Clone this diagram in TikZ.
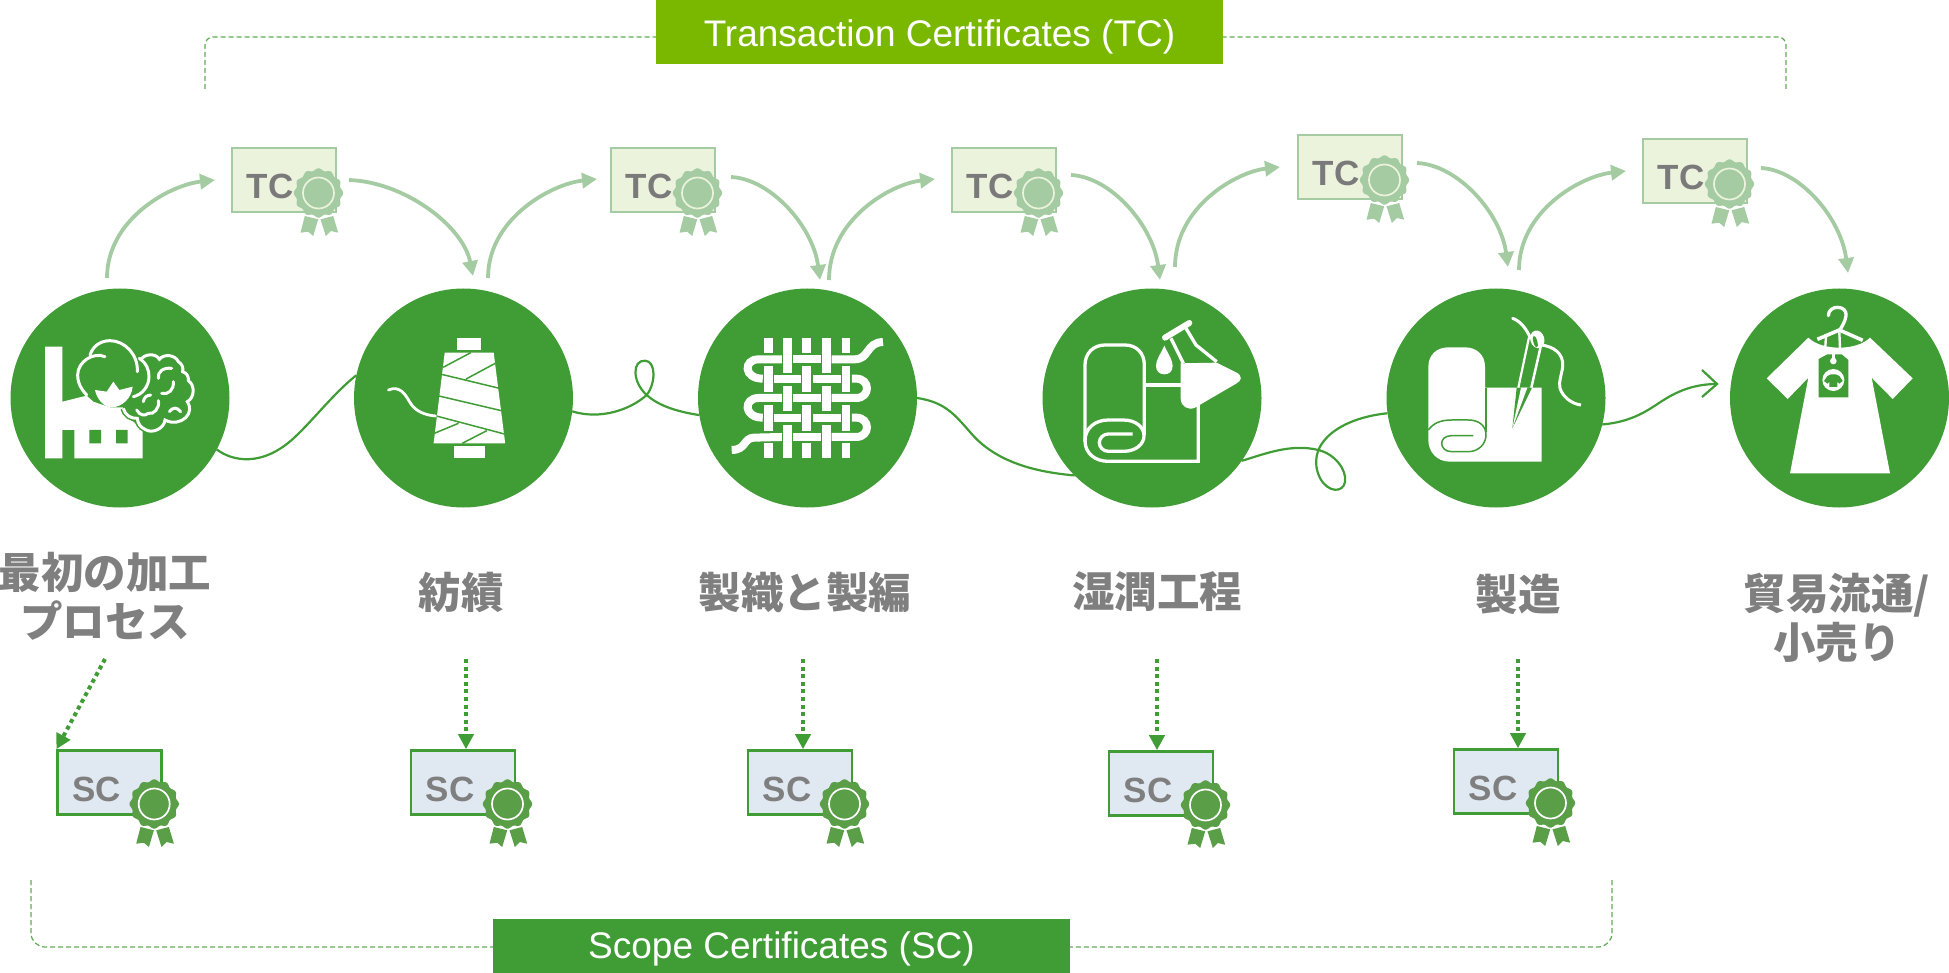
\documentclass[tikz,border=0pt]{standalone}
\usepackage{fontspec}
\setmainfont{Liberation Sans}
\newfontfamily\jpfont{Noto Sans CJK JP}
\usetikzlibrary{arrows.meta,calc}
\definecolor{gsgreen}{HTML}{409C35}
\definecolor{gslight}{HTML}{A5CBA3}
\definecolor{tcfill}{HTML}{ECF3DC}
\definecolor{scfill}{HTML}{E0E8F2}
\definecolor{tcbar}{HTML}{7AB800}
\definecolor{lblgray}{HTML}{7F7F7F}
\definecolor{sealgreen}{HTML}{5A9E48}
\tikzset{
  x=1pt,y=-1pt,
  stage/.style={circle,fill=gsgreen,minimum size=219pt,inner sep=0pt,outer sep=0pt},
  lbl/.style={text=lblgray,font=\jpfont\bfseries\fontsize{42.5}{49}\selectfont,align=center,inner sep=0pt},
  certbox/.style={draw=#1,line width=2.6pt,minimum width=104pt,minimum height=64pt,inner sep=0pt},
  certtxt/.style={text=#1,font=\bfseries\fontsize{35}{35}\selectfont,inner sep=0pt},
  bar/.style={fill=#1,minimum height=54pt,inner sep=0pt,outer sep=0pt,text=white,font=\fontsize{37}{37}\selectfont},
  tcarrow/.style={gslight,line width=3.8pt,-{Triangle[length=15pt,width=15pt]}},
  scarrow/.style={gsgreen,line width=4pt,dash pattern=on 4pt off 3.6pt,-{Triangle[length=15pt,width=15pt]}},
  thread/.style={gsgreen,line width=2.2pt},
  bracket/.style={gsgreen!85!white,line width=1.2pt,dash pattern=on 5pt off 3pt},
  ico/.style={white,line width=#1},
  icozoom/.style={shift={#1},scale=1/3}
}
\newcommand{\sealmark}[4]{%
  \begin{scope}[shift={(#1,#2)}]
    \fill[#3] plot[domain=0:360,samples=121] (\x:{23.6+1.1*cos(12*\x)}) -- cycle;
    \draw[#4,line width=1.7pt] (0,0) circle (15.5);
    \fill[#3] (0,0) circle (13.6);
    \fill[#3] (-13.7,23) -- (-0.3,26.3) -- (-5.3,43) -- (-10.3,38.7) -- (-18,39.7) -- cycle;
    \fill[#3] (2,26.3) -- (14.7,23) -- (19.7,39.7) -- (12.3,38) -- (7.3,43) -- cycle;
  \end{scope}}
\newcommand{\tccert}[3]{%
  \node[certbox=gslight,fill=tcfill] (#1) at (#2+53,#3+33) {};
  \node[certtxt=black!52] (#1t) at (#2+39,#3+39) {TC};
  \sealmark{#2+87.5}{#3+46}{gslight}{tcfill}}
\newcommand{\sccert}[3]{%
  \node[certbox=gsgreen,fill=scfill] (#1) at (#2+53,#3+33.5) {};
  \node[certtxt=lblgray] (#1t) at (#2+40,#3+40) {SC};
  \sealmark{#2+97.5}{#3+55}{sealgreen}{white}}
\begin{document}
\begin{tikzpicture}
\useasboundingbox (0,0) rectangle (1949,973);

% stages
\node[stage] (c1) at (120,398) {};
\node[stage] (c2) at (463.5,398) {};
\node[stage] (c3) at (807.5,398) {};
\node[stage] (c4) at (1152,398) {};
\node[stage] (c5) at (1496,398) {};
\node[stage] (c6) at (1839.5,398) {};

% threads
\draw[thread] (c1.-28) .. controls (232,461) and (262,468) .. (295,437) .. controls (315,418) and (335,392) .. (c2.168);
\draw[thread] (c2.-7.6) .. controls (600,420) and (630,410) .. (646.7,395) .. controls (656,383) and (656,361) .. (645,360.7) .. controls (632,360) and (632,382) .. (646.7,395) .. controls (660,407) and (680,412) .. (c3.189);
\draw[thread] (c3.0) .. controls (945,402) and (955,415) .. (970,432) .. controls (995,462) and (1035,472) .. (c4.225);
\draw[thread] (c4.-35) .. controls (1262,455) and (1290,443) .. (1318.3,450) .. controls (1335,454) and (1347,470) .. (1345,482) .. controls (1343,493) and (1328,493) .. (1320,478) .. controls (1312,462) and (1318,448) .. (1323.3,441.7) .. controls (1335,426) and (1360,416) .. (c5.188);
\coordinate (threadtip) at (1717,384);
\draw[thread] (c5.-14) .. controls (1630,422) and (1645,412) .. (1656,405) .. controls (1672,394) and (1690,384) .. (threadtip);
\draw[thread] (1702,370) -- (threadtip) -- (1702,397);

% banners and brackets
\node[bar=tcbar,minimum width=567pt,minimum height=64pt] (tcbar) at (939.5,32) {\raisebox{-15pt}[0pt][0pt]{Transaction Certificates (TC)}};
\node[bar=gsgreen,minimum width=577pt] (scbar) at (781.5,946) {\raisebox{-12.5pt}[0pt][0pt]{Scope Certificates (SC)}};
\coordinate (tl) at (205,89); \coordinate (tr) at (1786,89);
\coordinate (bl) at (31,880); \coordinate (br) at (1612,880);
\draw[bracket,rounded corners=8pt] (tl) |- (tcbar.west |- 0,37);
\draw[bracket,rounded corners=8pt] (tr) |- (tcbar.east |- 0,37);
\draw[bracket,rounded corners=14pt] (bl) |- (scbar.west |- 0,947);
\draw[bracket,rounded corners=14pt] (br) |- (scbar.east |- 0,947);

% TC certificates
\tccert{tc1}{231}{147}
\tccert{tc2}{610}{147}
\tccert{tc3}{951}{147}
\tccert{tc4}{1297}{134}
\tccert{tc5}{1642}{138}

\coordinate (u1a) at (107,278); \coordinate (u1b) at (215,180);
\coordinate (d1a) at (349,180); \coordinate (d1b) at (473,276);
\coordinate (u2a) at (488,278); \coordinate (u2b) at (597,179);
\coordinate (d2a) at (731,177); \coordinate (d2b) at (820,280);
\coordinate (u3a) at (829,280); \coordinate (u3b) at (935,179);
\coordinate (d3a) at (1071,175); \coordinate (d3b) at (1160,280);
\coordinate (u4a) at (1175,267); \coordinate (u4b) at (1280,167);
\coordinate (d4a) at (1417,163); \coordinate (d4b) at (1508,267);
\coordinate (u5a) at (1519,270); \coordinate (u5b) at (1626,171);
\coordinate (d5a) at (1761,168); \coordinate (d5b) at (1848,273);
\foreach \n in {1,...,5}{
  \draw[tcarrow] (u\n a) .. controls ($(u\n a)!0.6!(u\n a |- u\n b)$) and ($(u\n b)!0.42!(u\n a |- u\n b)+(0,5)$) .. (u\n b);
  \coordinate (k1) at ($(d\n a)!0.92!(d\n b |- d\n a)$);
  \coordinate (k2) at ($(d\n a)!0.48!(d\n a |- d\n b)$);
  \draw[tcarrow] (d\n a) .. controls ($(d\n a)!0.45!(d\n b |- d\n a)+(0,2)$) and (k1 |- k2) .. (d\n b);
}

% labels
\node[lbl] (l1) at (105,596) {最初の加工\\プロセス};
\node[lbl] (l2) at (461,592) {紡績};
\node[lbl] (l3) at (805,592) {製織と製編};
\node[lbl] (l4) at (1157,592) {湿潤工程};
\node[lbl] (l5) at (1518,594) {製造};
\node[lbl] (l6) at (1837,618) {貿易流通/\\小売り};

% SC certificates
\sccert{sc1}{56.7}{749}
\sccert{sc2}{410}{749}
\sccert{sc3}{747}{749}
\sccert{sc4}{1108}{750}
\sccert{sc5}{1453}{748}
\coordinate (s1) at (105,659); \coordinate (s2) at (466,659); \coordinate (s3) at (803,659); \coordinate (s4) at (1157,659); \coordinate (s5) at (1518,659);
\draw[scarrow] (s1) -- (sc1.north west);
\foreach \n in {2,...,5}{ \draw[scarrow] (s\n) -- (s\n |- sc\n.north); }

% ---- icon 1: factory and cotton
\begin{scope}[icozoom={(50,330)}]
  \fill[white] (-15,50) -- (37,50) -- (37,215) -- (110,197) -- (130,215) -- (180,232) -- (218,232) -- (235,265) -- (278,295) -- (278,385) -- (73,385) -- (73,300) -- (37,300) -- (37,385) -- (-15,385) -- cycle;
  \fill[gsgreen] (118,300) rectangle (153,340) (198,300) rectangle (233,340);
  \draw[gsgreen,fill=gsgreen,line width=6pt] (272,92) to[bend left=70] (328,88) to[bend left=60] (385,95) to[bend left=35] (398,125) to[bend left=40] (415,152) to[bend left=60] (412,215) to[bend left=40] (408,262) to[bend left=35] (345,270) to[bend left=60] (285,298) to[bend left=30] (262,265) to[bend left=40] (220,235);
  \draw[ico=3pt] (272,92) to[bend left=70] (328,88) to[bend left=60] (385,95) to[bend left=35] (398,125) to[bend left=40] (415,152) to[bend left=60] (412,215) to[bend left=40] (408,262) to[bend left=35] (345,270) to[bend left=60] (285,298) to[bend left=30] (262,265) to[bend left=40] (220,235);
  \fill[gsgreen] (110,197) -- (250,200) -- (268,85) -- (120,75) -- (83,135) -- cycle;
  \draw[ico=3pt,line cap=round] (165,80) .. controls (130,65) and (83,95) .. (83,135) .. controls (83,160) and (95,180) .. (110,195);
  \draw[ico=3pt,line cap=round] (120,75) .. controls (130,45) and (155,32) .. (180,32) .. controls (225,32) and (265,75) .. (262,125);
  \draw[ico=3pt,line cap=round] (268,85) .. controls (290,100) and (297,120) .. (297,140) .. controls (297,170) and (275,195) .. (250,200);
  \fill[white] (135,180) -- (170,185) -- (190,155) -- (208,180) -- (248,170) .. controls (245,205) and (215,232) .. (185,232) .. controls (160,232) and (140,205) .. (135,180) -- cycle;
  \draw[ico=3pt,line cap=round] (325,145) .. controls (322,125) and (340,112) .. (365,115);
  \draw[ico=3pt,line cap=round] (335,190) .. controls (355,195) and (372,180) .. (370,155);
  \draw[ico=3pt,line cap=round] (280,215) .. controls (282,202) and (290,196) .. (302,195);
  \draw[ico=3pt,line cap=round] (260,240) .. controls (270,258) and (285,258) .. (295,250) .. controls (310,255) and (330,235) .. (325,212);
  \draw[ico=3pt,line cap=round] (358,245) .. controls (368,232) and (380,230) .. (392,245);
\end{scope}

% ---- icon 2: spool
\begin{scope}[shift={(0,270)},xscale=0.3827,yscale=0.3333]
  \fill[white] (1195,205) rectangle (1258,240);
  \fill[white] (1185,527) rectangle (1268,565);
  \fill[white] (1162,248) -- (1290,248) -- (1320,520) -- (1133,520) -- cycle;
  \draw[gsgreen,line width=1.5pt] (1150,312) -- (1305,355) (1147,378) -- (1310,422) (1140,438) -- (1318,492)
    (1158,292) -- (1230,248) (1218,327) -- (1294,280) (1135,490) -- (1198,460) (1208,520) -- (1272,482);
  \draw[ico=2.8pt,line cap=round] (1015,360) .. controls (1045,345) and (1060,375) .. (1070,395) .. controls (1085,425) and (1110,435) .. (1138,438);
\end{scope}

% ---- icon 3: weave
\begin{scope}[shift={(650,270)},xscale=0.4146,yscale=0.3333]
  \foreach \cx/\a/\b in {285/205/250,285/288/365,285/405/482,285/520/565,
                         331/205/308,331/347/423,331/465/565,
                         378/205/250,378/288/365,378/405/482,378/520/565,
                         426/205/308,426/347/423,426/465/565,
                         473/205/250,473/288/365,473/405/482,473/520/565}
    \fill[white] (\cx-10.5,\a) rectangle (\cx+10.5,\b);
  \foreach \ry/\a/\b in {268/345/413,384/345/413,501/345/413,326/298/365,326/392/460,443/298/365,443/392/460}
    \fill[white] (\a,\ry-12) rectangle (\b,\ry+12);
  \draw[white,line width=8pt] (318,268) -- (262,268) .. controls (225,268) and (225,326) .. (272,326);
  \draw[white,line width=8pt] (318,384) -- (262,384) .. controls (225,384) and (225,443) .. (272,443);
  \draw[white,line width=8pt] (487,326) -- (497,326) .. controls (532,326) and (532,384) .. (497,384) -- (438,384);
  \draw[white,line width=8pt] (487,443) -- (497,443) .. controls (532,443) and (532,501) .. (497,501) -- (438,501);
  \draw[white,line width=8pt] (438,268) -- (493,268) .. controls (530,268) and (520,218) .. (562,216);
  \draw[white,line width=8pt] (318,501) -- (250,503) .. controls (225,505) and (232,540) .. (197,540);
\end{scope}

% ---- icon 4: fabric roll and flask
\begin{scope}[icozoom={(1060,310)}]
  \draw[ico=3.3pt] (75,395) -- (75,165) .. controls (75,130) and (100,105) .. (135,105) -- (195,105) .. controls (230,105) and (253,130) .. (253,165) -- (253,375);
  \draw[ico=3.3pt] (415,280) -- (415,454) -- (145,454) .. controls (105,454) and (75,430) .. (75,392) .. controls (75,355) and (105,330) .. (145,330) -- (190,330) .. controls (228,330) and (252,352) .. (252,377) .. controls (252,402) and (228,424) .. (190,424) -- (145,424) .. controls (130,424) and (118,412) .. (118,398) .. controls (118,384) and (130,372) .. (145,372) -- (218,372);
  \draw[ico=3.3pt] (258,225) -- (362,225);
  \fill[white] (362,160) -- (470,158) -- (530,188) .. controls (548,198) and (545,212) .. (530,220) -- (405,293) .. controls (385,302) and (362,290) .. (362,265) -- cycle;
  \draw[ico=3.3pt] (333,85) -- (370,160);
  \draw[ico=3.3pt] (378,55) -- (408,105) -- (470,155);
  \draw[ico=6pt,line cap=round] (315,83) -- (388,39);
  \fill[white] (313,107) .. controls (300,135) and (288,150) .. (288,168) .. controls (288,185) and (300,193) .. (313,193) .. controls (326,193) and (338,185) .. (338,168) .. controls (338,150) and (326,135) .. (313,107) -- cycle;
\end{scope}

% ---- icon 5: fabric, needle and thread
\begin{scope}[icozoom={(1410,300)}]
  \fill[white] (55,420) -- (55,200) .. controls (55,165) and (80,142) .. (115,142) -- (165,142) .. controls (200,142) and (225,165) .. (225,200) -- (225,263) -- (395,263) -- (395,485) -- (120,485) .. controls (80,485) and (55,455) .. (55,420) -- cycle;
  \draw[gsgreen,line width=1.3pt] (228,263) -- (228,395);
  \draw[gsgreen,line width=1.5pt] (55,390) .. controls (70,370) and (90,360) .. (125,360) -- (175,360) .. controls (210,360) and (228,380) .. (228,405) .. controls (228,432) and (205,455) .. (175,455) -- (125,455) .. controls (105,455) and (95,442) .. (95,430) .. controls (95,418) and (105,407) .. (125,407) -- (190,407);
  \fill[gsgreen] (307,385) -- (320,263) -- (366,263) -- cycle;
  \fill[white] (307,385) -- (333,263) -- (352,263) -- cycle;
  \draw[ico=2.2pt] (325,263) -- (357,112);
  \draw[ico=2.5pt] (364,263) -- (392,140);
  \fill[white,rotate around={15:(382,118)}] (382,118) ellipse (21 and 27);
  \fill[gsgreen,rotate around={15:(376,125)}] (376,125) ellipse (6 and 18);
  \draw[ico=3pt,line cap=round] (308,55) .. controls (335,65) and (350,90) .. (362,115);
  \draw[ico=3pt] (395,135) .. controls (430,140) and (462,160) .. (458,200) .. controls (455,225) and (445,245) .. (450,265) .. controls (458,290) and (485,312) .. (513,315);
\end{scope}

% ---- icon 6: garment on hanger with tag
\begin{scope}[icozoom={(1720,295)}]
  \fill[white] (265,128) -- (140,250) -- (203,312) -- (265,248) -- (210,535) -- (510,535) -- (455,248) -- (518,312) -- (578,250) -- (450,128) .. controls (410,168) and (305,168) .. (265,128) -- cycle;
  \fill[gsgreen] (296,192) -- (322,178) -- (365,178) -- (385,195) -- (385,307) -- (296,307) -- cycle;
  \fill[white] (340,198) circle (10);
  \fill[white] (340,255) circle (33);
  \fill[gsgreen] (333,238) -- (322,243) -- (312,258) -- (322,266) -- (328,260) -- (328,276) -- (352,276) -- (352,260) -- (358,266) -- (368,258) -- (358,243) -- (347,238) -- cycle;
  \draw[ico=3.3pt,line cap=round] (325,62) .. controls (325,45) and (340,37) .. (352,37) .. controls (370,37) and (380,48) .. (378,62) .. controls (376,80) and (365,95) .. (358,108);
  \draw[ico=3.6pt] (292,133) -- (358,105) -- (428,136);
  \draw[ico=2.4pt] (318,122) -- (316,155);
  \draw[ico=2.4pt] (358,112) -- (360,160);
  \draw[ico=2.4pt] (340,165) -- (340,195);
\end{scope}
\end{tikzpicture}
\end{document}
